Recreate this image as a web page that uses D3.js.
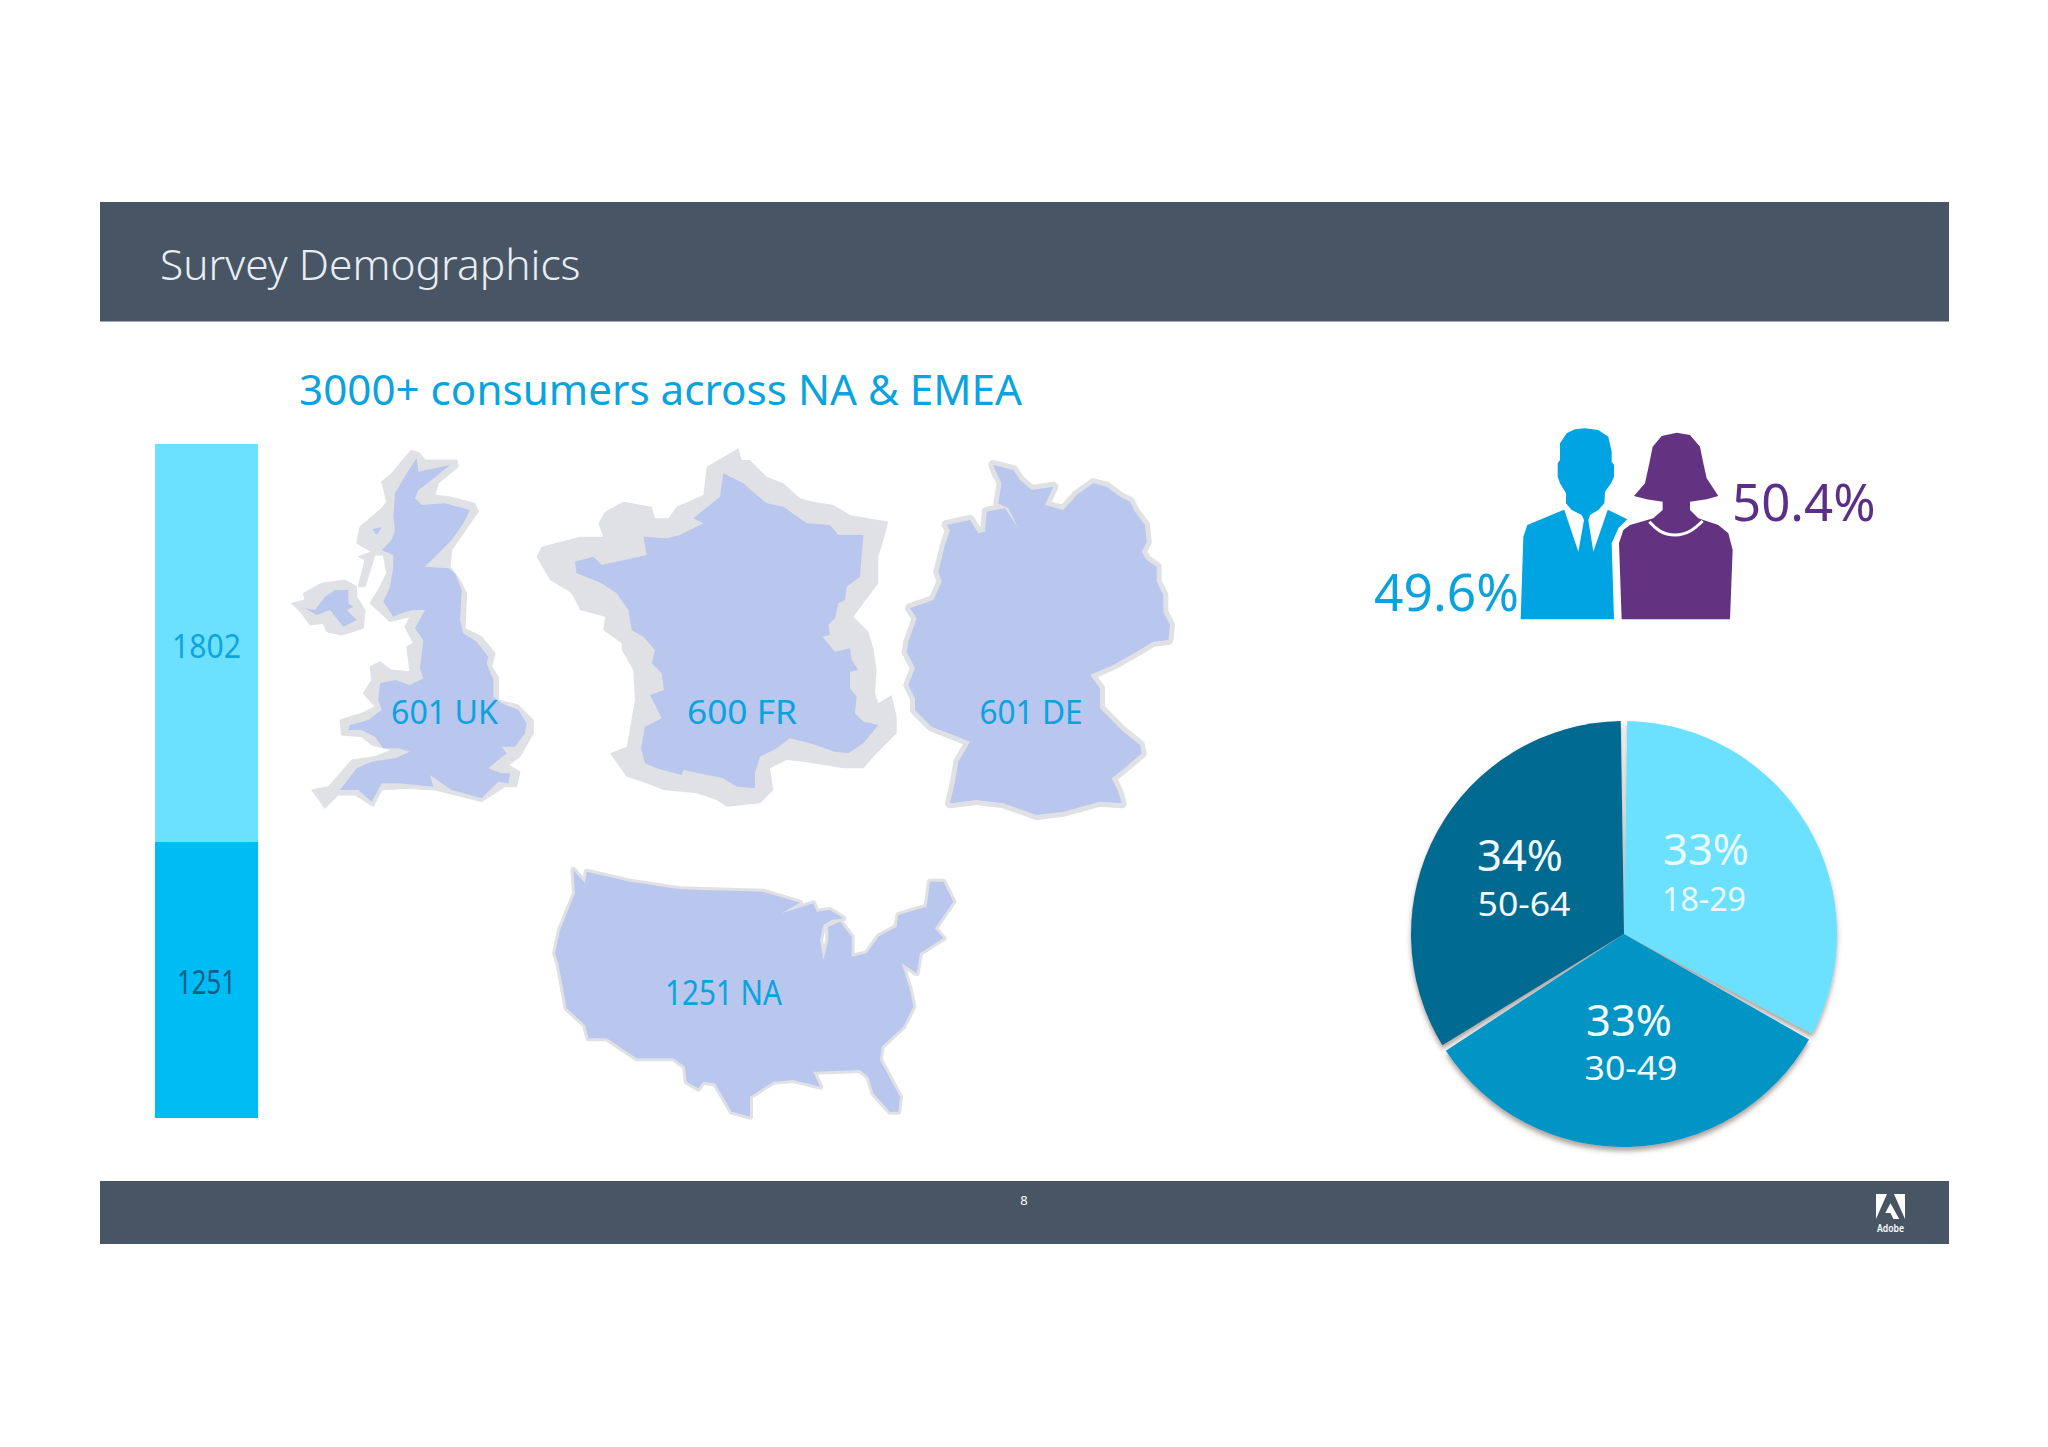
<!DOCTYPE html>
<html><head><meta charset="utf-8">
<script src="https://cdnjs.cloudflare.com/ajax/libs/d3/7.8.5/d3.min.js"></script>
<style>html,body{margin:0;padding:0;background:#fff}svg{display:block}text{font-family:"Noto Sans","Open Sans",sans-serif}</style>
</head><body>
<script>
// ---- data ----
const barCategories = ["EMEA", "NA"];
const barValues = [1802, 1251];
const barColors = ["#6ce1ff", "#00bcf5"];
const barLabelColors = ["#0ea5dc", "#0c5f85"];
const pieCategories = ["18-29", "30-49", "50-64"];
const pieValues = [33, 33, 34];
const pieColors = ["#6ce1ff", "#0095c4", "#006b91"];
const pieLabelColors = ["#eafbff", "#f2fbff", "#f2fbff"];
const genderLabels = ["49.6%", "50.4%"];
const countryLabels = ["601 UK", "600 FR", "601 DE", "1251 NA"];

// outlines, in tracing-grid units
const ukFill = [[395,55],[400,95],[495,75],[440,120],[400,150],[390,175],[410,195],[480,190],[555,210],[535,250],[500,300],[450,350],[420,380],[490,385],[510,400],[530,450],[525,540],[535,580],[575,605],[610,650],[605,670],[625,720],[625,770],[650,790],[700,810],[725,850],[720,880],[690,920],[650,920],[665,940],[640,960],[610,985],[650,1000],[675,1000],[670,1030],[640,1025],[590,1075],[500,1050],[435,1005],[445,1040],[340,1030],[290,1030],[260,1085],[220,1050],[165,1050],[215,985],[260,965],[330,955],[375,935],[340,925],[295,925],[270,890],[230,870],[190,870],[195,855],[250,840],[290,810],[280,780],[285,730],[330,720],[375,735],[415,715],[405,685],[415,600],[390,565],[420,510],[385,510],[350,520],[325,530],[295,485],[315,440],[325,380],[325,345],[290,330],[320,300],[330,270],[325,230],[330,160],[365,100]];
const ukHalo = [[380,30],[405,40],[420,60],[515,60],[520,80],[460,130],[450,165],[490,170],[570,190],[580,215],[500,330],[495,380],[525,420],[545,460],[540,565],[590,590],[630,640],[620,680],[640,710],[640,780],[700,795],[745,840],[745,880],[705,950],[670,975],[705,995],[695,1040],[660,1040],[590,1085],[510,1065],[450,1050],[360,1045],[290,1050],[265,1100],[210,1065],[160,1065],[120,1105],[80,1050],[130,1040],[200,960],[270,950],[320,930],[260,915],[230,890],[170,885],[165,840],[230,820],[270,800],[235,760],[260,720],[255,680],[285,665],[320,690],[375,695],[365,620],[385,610],[360,560],[375,530],[315,545],[255,490],[285,440],[305,400],[295,345],[270,345],[240,440],[220,440],[240,360],[220,350],[260,335],[215,310],[225,260],[290,205],[305,185],[290,125],[320,100],[370,40]];
const ukIsle = [[262,268],[290,262],[275,285]];
const ieFill = [[60,505],[90,510],[120,470],[150,450],[190,450],[190,490],[205,500],[185,510],[215,540],[175,560],[135,510],[95,525]];
const ieHalo = [[20,490],[60,480],[55,460],[110,430],[180,420],[215,440],[215,470],[240,510],[235,565],[170,585],[125,575],[115,550],[75,555],[50,520]];
const frFill = [[580,100],[640,130],[680,165],[710,190],[760,200],[830,250],[900,255],[925,285],[1000,285],[990,410],[950,440],[945,480],[925,490],[915,535],[895,555],[900,585],[878,590],[915,635],[960,625],[965,660],[985,690],[960,695],[960,745],[980,770],[975,820],[1000,845],[1045,855],[1000,910],[955,940],[915,935],[840,910],[780,895],[740,925],[690,950],[675,1000],[675,1045],[620,1040],[580,1015],[460,990],[455,1005],[380,985],[345,970],[333,925],[345,860],[395,835],[360,765],[402,750],[395,700],[365,670],[375,630],[340,590],[305,570],[295,510],[260,460],[215,430],[140,400],[135,365],[190,350],[215,375],[350,345],[340,290],[410,295],[450,285],[520,250],[490,235],[570,170]];
const frHalo = [[625,25],[635,60],[660,60],[710,110],[760,130],[810,175],[850,185],[910,195],[960,225],[1075,245],[1060,300],[1045,350],[1045,430],[1000,490],[970,530],[1015,575],[1030,625],[1040,690],[1035,760],[1045,790],[1085,765],[1100,830],[1100,880],[1030,950],[1000,985],[940,985],[820,965],[770,960],[720,985],[730,1050],[690,1090],[590,1100],[560,1080],[500,1060],[400,1050],[350,1030],[290,1010],[240,940],[290,920],[315,780],[310,690],[275,630],[275,610],[220,570],[225,530],[150,510],[125,460],[60,420],[20,350],[35,320],[150,290],[220,290],[205,250],[225,215],[280,185],[365,200],[375,235],[415,235],[440,200],[520,165],[530,80]];
const deFill = [[310,60],[370,75],[390,105],[425,135],[490,125],[465,180],[520,195],[560,150],[610,115],[650,125],[690,155],[720,170],[735,200],[765,240],[770,290],[755,320],[770,345],[800,365],[800,410],[820,450],[820,500],[840,540],[835,585],[790,590],[740,620],[670,660],[600,690],[630,730],[630,790],[670,830],[700,860],[750,900],[755,925],[690,980],[665,1000],[685,1040],[695,1075],[630,1070],[520,1100],[440,1110],[340,1075],[260,1065],[180,1075],[195,1010],[205,950],[240,890],[190,870],[125,845],[75,795],[75,760],[55,720],[75,670],[50,620],[55,590],[80,520],[60,490],[130,465],[155,410],[145,380],[165,300],[180,255],[170,240],[240,225],[265,265],[285,260],[290,200],[345,190],[385,250],[355,190],[325,175],[335,115],[320,85]];
const usFill = [[170,65],[300,95],[450,118],[700,125],[810,158],[755,190],[850,160],[860,185],[900,180],[940,205],[905,210],[880,225],[870,270],[880,330],[895,270],[895,230],[930,215],[965,260],[965,320],[1010,310],[1045,260],[1100,230],[1105,195],[1190,170],[1200,95],[1240,95],[1270,155],[1215,235],[1240,265],[1170,310],[1160,370],[1115,340],[1140,420],[1150,470],[1120,530],[1055,590],[1050,630],[1110,740],[1105,785],[1080,785],[1030,730],[1015,680],[990,660],[850,665],[870,710],[790,690],[730,695],[660,740],[660,800],[605,785],[555,700],[520,695],[505,715],[470,695],[465,650],[430,625],[320,625],[230,565],[175,565],[165,525],[110,475],[85,340],[75,310],[90,240],[135,130],[130,60],[165,100]];
const manBody = [[225,25],[265,30],[295,50],[305,95],[305,125],[312,135],[312,170],[303,190],[285,215],[283,250],[265,270],[295,270],[352,298],[325,325],[305,370],[312,598],[32,598],[40,350],[52,315],[160,270],[185,270],[168,250],[168,220],[150,190],[143,170],[143,130],[150,120],[150,70],[170,40],[195,28]];
const manShirtLeft = [[163,270],[185,270],[215,285],[222,300],[205,395]];
const manShirtRight = [[293,270],[265,270],[240,285],[235,300],[250,395]];
const womanBody = [[500,38],[540,45],[570,80],[580,130],[590,175],[625,228],[590,238],[540,245],[540,270],[565,295],[625,315],[655,340],[668,390],[660,598],[335,598],[327,370],[340,330],[360,315],[430,295],[458,270],[458,245],[410,238],[372,228],[405,190],[418,130],[428,80],[455,48]];
const womanNeck = [[418,305],[445,335],[495,350],[545,335],[578,303]];
const logoLeft = [[0,0],[.38,0],[0,1]];
const logoRight = [[.62,0],[1,0],[1,1]];
const logoMid = [[.5,.37],[.8,1],[.6,1],[.5,.76],[.32,.76]];

// ---- chart ----
const blue = "#0aa3e0", band = "#475565", mapFill = "#b9c6ee", mapHalo = "#dfe1e4";
const svg = d3.select("body").append("svg").attr("width", 2048).attr("height", 1447).attr("viewBox", "0 0 2048 1447");
svg.append("rect").attr("width", 2048).attr("height", 1447).attr("fill", "#fff");
const defs = svg.append("defs");
defs.append("filter").attr("id", "pieShadow").attr("x", "-10%").attr("y", "-10%").attr("width", "120%").attr("height", "125%")
  .append("feDropShadow").attr("dx", 0).attr("dy", 4).attr("stdDeviation", 2.5).attr("flood-color", "#5a4a40").attr("flood-opacity", .5);

function txt(x, y, s, size, fill, anchor, weight, len) {
  const t = svg.append("text").attr("x", x).attr("y", y).attr("font-size", size).attr("fill", fill)
    .attr("text-anchor", anchor || "middle").attr("font-weight", weight || 400).text(s);
  if (len) t.attr("textLength", len).attr("lengthAdjust", "spacingAndGlyphs");
  return t;
}

// header / footer bands
svg.append("rect").attr("x", 100).attr("y", 202).attr("width", 1849).attr("height", 119.5).attr("fill", band);
svg.append("rect").attr("x", 100).attr("y", 1181).attr("width", 1849).attr("height", 63).attr("fill", band);
txt(160, 280, "Survey Demographics", 42.5, "#e9edf1", "start", 300);
txt(299, 405, "3000+ consumers across NA & EMEA", 42.2, blue, "start");
txt(1024, 1205, "8", 13, "#fff");

// stacked bar
const yBar = d3.scaleLinear().domain([0, d3.sum(barValues)]).range([1118, 444]);
const stack = d3.cumsum(barValues.slice().reverse()).reverse();
const barLabelY = [658, 994];
const barLabelLen = [69, 59];
const barG = svg.append("g");
barG.selectAll("rect").data(barValues).join("rect")
  .attr("x", 155).attr("width", 103)
  .attr("y", (d, i) => yBar(stack[i]))
  .attr("height", d => yBar(0) - yBar(d))
  .attr("fill", (d, i) => barColors[i]);
barValues.forEach((v, i) => txt(206.5, barLabelY[i], v, 32, barLabelColors[i], "middle", 400, barLabelLen[i]));

// maps
const crop = (x0, y0, w, h) => [
  d3.scaleLinear().domain([0, w * 3]).range([x0, x0 + w]),
  d3.scaleLinear().domain([0, h * 3]).range([y0, y0 + h])
];
const [ukx, uky] = crop(285, 440, 260, 380);
const [frx, fry] = crop(530, 440, 380, 380);
const [dex, dey] = crop(890, 445, 300, 385);
const [usx, usy] = crop(530, 850, 450, 280);
const [gx, gy] = crop(1510, 420, 240, 210);
const line = (sx, sy) => d3.line().x(d => sx(d[0])).y(d => sy(d[1]));
const closed = (sx, sy, pts) => line(sx, sy)(pts) + "Z";
function shape(sx, sy, pts, fill, haloW) {
  const p = svg.append("path").attr("d", closed(sx, sy, pts)).attr("fill", fill);
  if (haloW) p.attr("stroke", mapHalo).attr("stroke-width", haloW).attr("stroke-linejoin", "round").attr("paint-order", "stroke");
  return p;
}
shape(ukx, uky, ukHalo, mapHalo, 1);
shape(ukx, uky, ieHalo, mapHalo, 1);
shape(ukx, uky, ukFill, mapFill);
shape(ukx, uky, ieFill, mapFill);
shape(ukx, uky, ukIsle, mapFill);
shape(frx, fry, frHalo, mapHalo);
shape(frx, fry, frFill, mapFill);
shape(dex, dey, deFill, mapFill, 10);
shape(usx, usy, usFill, mapFill, 6);
[[444.5, 724, 33, 107], [742, 724, 33, 110], [1031, 724, 33, 103], [723.5, 1005, 34, 117]]
  .forEach((p, i) => txt(p[0], p[1], countryLabels[i], p[2], blue, "middle", 400, p[3]));

// gender figures
svg.append("path").attr("d", closed(gx, gy, manBody)).attr("fill", "#00a4e3");
[manShirtLeft, manShirtRight].forEach(p => svg.append("path").attr("d", closed(gx, gy, p)).attr("fill", "#fff"));
svg.append("path").attr("d", closed(gx, gy, womanBody)).attr("fill", "#633381");
svg.append("path").attr("d", line(gx, gy).curve(d3.curveBasis)(womanNeck)).attr("fill", "none").attr("stroke", "#fff").attr("stroke-width", 3);
txt(1374, 611, genderLabels[0], 51.5, blue, "start");
txt(1732, 521, genderLabels[1], 51, "#5b2f86", "start");

// pie
const pieCx = 1624, pieCy = 934, pieR = 213;
const pie = d3.pie().sort(null).padAngle(6.5 / pieR)(pieValues);
const arc = d3.arc().innerRadius(0).outerRadius(pieR).padRadius(pieR);
svg.append("g").attr("transform", `translate(${pieCx},${pieCy})`).attr("filter", "url(#pieShadow)")
  .selectAll("path").data(pie).join("path").attr("d", arc).attr("fill", (d, i) => pieColors[i]);
const pctPos = [[1706, 865], [1629, 1036], [1520, 871]];
const agePos = [[1704, 911], [1631, 1080], [1524, 916]];
const ageLen = [84, 93, 93];
pieValues.forEach((v, i) => {
  txt(pctPos[i][0], pctPos[i][1], v + "%", 43.5, pieLabelColors[i]);
  txt(agePos[i][0], agePos[i][1], pieCategories[i], 32.5, pieLabelColors[i], "middle", 400, ageLen[i]);
});

// Adobe mark
const lx = d3.scaleLinear().domain([0, 1]).range([1876, 1905]);
const ly = d3.scaleLinear().domain([0, 1]).range([1194, 1219]);
[logoLeft, logoRight, logoMid].forEach(p => svg.append("path").attr("d", closed(lx, ly, p)).attr("fill", "#fff"));
txt(1890.5, 1232, "Adobe", 10, "#fff", "middle", 600, 27);
</script>
</body></html>
